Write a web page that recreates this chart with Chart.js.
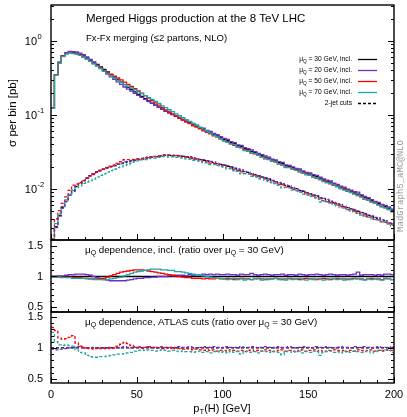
<!DOCTYPE html>
<html>
<head>
<meta charset="utf-8">
<script src="https://cdn.jsdelivr.net/npm/chart.js@4.4.1/dist/chart.umd.min.js"></script>
<style>
  html, body { margin: 0; padding: 0; background: #fff; }
  #wrap { position: relative; width: 407px; height: 417px; overflow: hidden; }
  #wrap canvas { position: absolute; left: 0; }
</style>
</head>
<body>
<div id="wrap">
  <canvas id="mainChart" width="407" height="243" style="top:0"></canvas>
  <canvas id="inclChart" width="407" height="78" style="top:238px"></canvas>
  <canvas id="cutsChart" width="407" height="107" style="top:310px"></canvas>
</div>
<script>
// Higgs pT, 2 GeV bins from 0 to 200
const BIN_WIDTH = 2;
const xTickLabels = ['0', '50', '100', '150', '200'];
const scaleLabels = ['30', '20', '50', '70'];
const seriesColors = ['#000000', '#6b2fc8', '#ff0000', '#1ba5a5'];

// sigma per bin [pb], muQ = 30 GeV, inclusive
const sigmaIncl30 = [
  0.124, 0.350, 0.512, 0.628, 0.680, 0.702, 0.698, 0.684, 0.660, 0.626,
  0.590, 0.552, 0.516, 0.481, 0.446, 0.412, 0.381, 0.352, 0.326, 0.301,
  0.278, 0.257, 0.238, 0.221, 0.205, 0.190, 0.178, 0.166, 0.155, 0.145,
  0.136, 0.128, 0.120, 0.113, 0.107, 0.1012, 0.0958, 0.0905, 0.0862, 0.0818,
  0.0780, 0.0738, 0.0706, 0.0668, 0.0637, 0.0603, 0.0578, 0.0546, 0.0522, 0.0494,
  0.0468, 0.0450, 0.0424, 0.0410, 0.0386, 0.0374, 0.0352, 0.0340, 0.0322, 0.0311,
  0.0296, 0.0284, 0.0270, 0.0262, 0.0248, 0.0240, 0.0228, 0.0221, 0.0208, 0.0203,
  0.0194, 0.0186, 0.0180, 0.0171, 0.0165, 0.0160, 0.0152, 0.0147, 0.0140, 0.0134,
  0.0128, 0.0124, 0.0117, 0.0113, 0.0106, 0.0103, 0.0098, 0.0094, 0.0089, 0.0085,
  0.0082, 0.0077, 0.0074, 0.0070, 0.0067, 0.0064, 0.0061, 0.0058, 0.0055, 0.0052
];

// sigma per bin [pb], muQ = 30 GeV, 2-jet (ATLAS) cuts
const sigmaCuts30 = [
  0.0016, 0.0031, 0.0044, 0.0056, 0.0068, 0.0082, 0.0094, 0.0108, 0.0119, 0.0130,
  0.0141, 0.0151, 0.0160, 0.0170, 0.0178, 0.0186, 0.0194, 0.0201, 0.0208, 0.0216,
  0.0221, 0.0228, 0.0233, 0.0240, 0.0246, 0.0250, 0.0256, 0.0261, 0.0266, 0.0270,
  0.0274, 0.0279, 0.0283, 0.0287, 0.0285, 0.0284, 0.0282, 0.0280, 0.0276, 0.0272,
  0.0268, 0.0262, 0.0256, 0.0250, 0.0244, 0.0240, 0.0233, 0.0228, 0.0220, 0.0216,
  0.0210, 0.0203, 0.0198, 0.0190, 0.0186, 0.0178, 0.0172, 0.0168, 0.0160, 0.0156,
  0.0150, 0.0145, 0.0140, 0.0136, 0.0130, 0.0126, 0.0121, 0.0117, 0.0112, 0.0109,
  0.0104, 0.0101, 0.0096, 0.0093, 0.0089, 0.0086, 0.0083, 0.0080, 0.0076, 0.0074,
  0.0071, 0.0068, 0.0066, 0.0063, 0.0061, 0.0058, 0.0056, 0.0054, 0.0052, 0.0050,
  0.0048, 0.0046, 0.0044, 0.0043, 0.0041, 0.0040, 0.0038, 0.0037, 0.0035, 0.0034
];

// ratios over muQ = 30 GeV, inclusive
const ratioIncl20 = [
  1.00, 1.00, 1.01, 1.01, 1.02, 1.03, 1.03, 1.04, 1.04, 1.04,
  1.03, 1.02, 1.00, 0.98, 0.96, 0.95, 0.94, 0.93, 0.93, 0.93,
  0.93, 0.93, 0.94, 0.95, 0.96, 0.97, 0.97, 0.98, 0.98, 0.99,
  0.99, 1.00, 1.00, 1.00, 1.01, 1.01, 1.02, 1.02, 1.02, 1.01,
  1.03, 1.02, 1.03, 1.02, 1.04, 1.03, 1.04, 1.03, 1.04, 1.03,
  1.03, 1.04, 1.03, 1.03, 1.02, 1.04, 1.03, 1.03, 1.05, 1.03,
  1.02, 1.03, 1.04, 1.03, 1.02, 1.03, 1.03, 1.04, 1.02, 1.03,
  1.03, 1.02, 1.04, 1.03, 1.02, 1.03, 1.03, 1.04, 1.03, 1.02,
  1.03, 1.04, 1.03, 1.02, 1.03, 1.03, 1.02, 1.03, 1.04, 1.07,
  1.02, 1.03, 1.03, 1.03, 1.02, 1.03, 1.02, 1.04, 1.04, 1.03
];
const ratioIncl50 = [
  1.00, 1.00, 0.99, 0.99, 0.99, 0.99, 0.98, 0.98, 0.98, 0.97,
  0.97, 0.96, 0.96, 0.96, 0.96, 0.97, 0.99, 1.01, 1.03, 1.05,
  1.07, 1.08, 1.09, 1.10, 1.11, 1.11, 1.11, 1.10, 1.09, 1.08,
  1.07, 1.06, 1.05, 1.04, 1.03, 1.02, 1.01, 1.00, 0.99, 0.98,
  0.98, 0.97, 0.97, 0.97, 0.96, 0.97, 0.96, 0.96, 0.97, 0.96,
  0.96, 0.97, 0.96, 0.95, 0.96, 0.97, 0.96, 0.96, 0.95, 0.96,
  0.97, 0.96, 0.95, 0.96, 0.96, 0.97, 0.96, 0.95, 0.96, 0.97,
  0.96, 0.96, 0.95, 0.96, 0.97, 0.96, 0.96, 0.95, 0.96, 0.97,
  0.96, 0.95, 0.96, 0.97, 0.96, 0.96, 0.95, 0.96, 0.97, 0.96,
  0.96, 0.95, 0.96, 0.97, 0.96, 0.96, 0.95, 0.97, 0.96, 0.95
];
const ratioIncl70 = [
  0.99, 0.99, 0.99, 0.98, 0.98, 0.98, 0.97, 0.97, 0.97, 0.97,
  0.96, 0.96, 0.95, 0.95, 0.95, 0.95, 0.95, 0.96, 0.97, 0.98,
  0.99, 1.01, 1.03, 1.05, 1.07, 1.08, 1.09, 1.10, 1.11, 1.12,
  1.12, 1.12, 1.11, 1.11, 1.10, 1.10, 1.08, 1.08, 1.07, 1.06,
  1.05, 1.04, 1.03, 1.02, 1.01, 1.00, 0.99, 0.98, 0.97, 0.97,
  0.96, 0.95, 0.96, 0.97, 0.95, 0.96, 0.94, 0.96, 0.95, 0.97,
  0.96, 0.94, 0.96, 0.95, 0.96, 0.97, 0.95, 0.96, 0.94, 0.96,
  0.95, 0.96, 0.97, 0.95, 0.94, 0.96, 0.95, 0.96, 0.96, 0.94,
  0.95, 0.96, 0.97, 0.95, 0.96, 0.94, 0.96, 0.95, 0.96, 0.97,
  0.95, 0.94, 0.96, 0.95, 0.96, 0.95, 0.94, 0.96, 0.97, 0.95
];

// ratios over muQ = 30 GeV, ATLAS cuts
const ratioCuts20 = [
  0.98, 0.97, 0.98, 0.98, 0.99, 1.00, 1.01, 1.02, 1.02, 1.01,
  1.00, 1.00, 1.01, 1.00, 0.99, 1.00, 1.01, 1.01, 1.00, 1.00,
  1.01, 1.02, 1.01, 1.00, 1.01, 1.02, 1.01, 1.01, 1.02, 1.01,
  1.00, 1.01, 1.02, 1.01, 1.01, 1.00, 1.01, 1.02, 1.01, 1.01,
  1.02, 1.01, 1.00, 1.01, 1.02, 1.01, 1.01, 1.02, 1.01, 1.00,
  1.01, 1.02, 1.01, 1.01, 1.00, 1.02, 1.01, 1.01, 1.02, 1.01,
  1.00, 1.01, 1.02, 1.01, 1.01, 1.00, 1.02, 1.01, 1.01, 1.02,
  1.01, 1.00, 1.01, 1.02, 1.01, 1.01, 1.00, 1.02, 1.01, 1.01,
  1.02, 1.01, 1.00, 1.01, 1.02, 1.01, 1.01, 1.00, 1.02, 1.01,
  1.01, 1.02, 1.01, 1.00, 1.01, 1.02, 1.01, 1.01, 1.00, 1.02
];
const ratioCuts50 = [
  1.33, 1.28, 1.16, 1.14, 1.15, 1.17, 1.20, 1.08, 1.03, 1.00,
  0.99, 1.00, 0.98, 0.99, 1.00, 0.99, 1.00, 0.99, 1.00, 1.03,
  1.06, 1.09, 1.07, 1.04, 1.02, 1.01, 1.00, 1.01, 1.02, 1.00,
  1.01, 1.00, 0.99, 1.00, 1.01, 0.99, 1.00, 0.99, 0.98, 0.99,
  0.98, 0.97, 0.98, 0.97, 0.96, 0.97, 0.96, 0.97, 0.95, 0.96,
  0.96, 0.95, 0.97, 0.96, 0.95, 0.96, 0.94, 0.96, 0.97, 0.95,
  0.96, 0.95, 0.97, 0.96, 0.94, 0.95, 0.96, 0.97, 0.95, 0.96,
  0.95, 0.94, 0.96, 0.97, 0.95, 0.96, 0.97, 0.95, 0.96, 0.94,
  0.95, 0.96, 0.97, 0.96, 0.95, 0.96, 0.94, 0.96, 0.95, 0.97,
  0.96, 0.95, 0.96, 0.97, 0.95, 0.96, 0.95, 0.96, 0.97, 0.96
];
const ratioCuts70 = [
  1.25, 1.10, 1.05, 1.04, 1.05, 1.04, 1.03, 0.97, 0.93, 0.92,
  0.88, 0.86, 0.85, 0.85, 0.86, 0.86, 0.87, 0.88, 0.89, 0.90,
  0.90, 0.91, 0.92, 0.93, 0.95, 0.96, 0.97, 0.96, 0.97, 0.96,
  0.95, 0.96, 0.97, 0.96, 0.95, 0.96, 0.95, 0.94, 0.95, 0.94,
  0.94, 0.93, 0.94, 0.95, 0.93, 0.94, 0.92, 0.94, 0.95, 0.93,
  0.94, 0.92, 0.95, 0.93, 0.94, 0.90, 0.94, 0.95, 0.93, 0.94,
  0.92, 0.95, 0.94, 0.93, 0.95, 0.94, 0.93, 0.89, 0.94, 0.95,
  0.93, 0.94, 0.95, 0.92, 0.94, 0.93, 0.95, 0.94, 0.88, 0.93,
  0.94, 0.95, 0.93, 0.94, 0.92, 0.95, 0.94, 0.93, 0.95, 0.94,
  0.93, 0.94, 0.95, 0.92, 0.94, 0.95, 0.96, 0.97, 0.96, 0.93
];

const FONT = '"Liberation Sans", Arial, Helvetica, sans-serif';
const MU = [['\u03bc'], ['Q', 'sub']];

// text with sub/superscripts: parts = [[text, 'sub'|'sup'|undefined], ...]
function drawRich(ctx, parts, x, y, size, align) {
  const fontOf = k => `${k ? size * 0.7 : size}px ${FONT}`;
  let w = 0;
  parts.forEach(([t, k]) => { ctx.font = fontOf(k); w += ctx.measureText(t).width; });
  let cx = align === 'right' ? x - w : align === 'center' ? x - w / 2 : x;
  ctx.textAlign = 'left';
  ctx.textBaseline = 'middle';
  parts.forEach(([t, k]) => {
    ctx.font = fontOf(k);
    const dy = k === 'sub' ? size * 0.3 : k === 'sup' ? -size * 0.38 : 0;
    ctx.fillText(t, cx, y + dy);
    cx += ctx.measureText(t).width;
  });
}

// histogram steps: one point per lower bin edge plus the closing edge
const toSteps = vals => vals.map((v, i) => ({ x: i * BIN_WIDTH, y: v }))
  .concat([{ x: vals.length * BIN_WIDTH, y: vals[vals.length - 1] }]);
const scaled = (base, ratio) => base.map((v, i) => v * ratio[i]);

const inclRatios = [sigmaIncl30.map((v, i) => v / sigmaIncl30[i]), ratioIncl20, ratioIncl50, ratioIncl70];
const cutsRatios = [sigmaCuts30.map((v, i) => v / sigmaCuts30[i]), ratioCuts20, ratioCuts50, ratioCuts70];
const drawOrder = [3, 2, 1, 0];

function lineSet(values, k, dashed) {
  return {
    data: toSteps(values),
    borderColor: seriesColors[k],
    borderWidth: 1.3,
    borderDash: dashed ? [3, 2] : [],
    stepped: true,
    pointRadius: 0,
    fill: false,
    order: drawOrder[k]
  };
}

const mainSets = [];
seriesColors.forEach((c, k) => {
  mainSets.push(lineSet(scaled(sigmaIncl30, inclRatios[k]), k, false));
  mainSets.push(lineSet(scaled(sigmaCuts30, cutsRatios[k]), k, true));
});

// inward ticks and frame
const framePlugin = {
  id: 'frame',
  afterDatasetsDraw(chart, args, opts) {
    const { ctx, chartArea: a, scales: { x, y } } = chart;
    ctx.save();
    ctx.strokeStyle = '#000';
    ctx.lineWidth = 1;
    ctx.beginPath();
    for (let v = 0; v <= 200; v += 10) {
      const px = Math.round(x.getPixelForValue(v)) + 0.5;
      const len = v % 50 === 0 ? 6 : 3;
      ctx.moveTo(px, a.bottom);
      ctx.lineTo(px, a.bottom - len);
    }
    opts.yTicks.forEach(([v, major]) => {
      const py = Math.round(y.getPixelForValue(v)) + 0.5;
      const len = major ? 6 : 3;
      ctx.moveTo(a.left, py); ctx.lineTo(a.left + len, py);
      ctx.moveTo(a.right, py); ctx.lineTo(a.right - len, py);
    });
    ctx.stroke();
    ctx.lineWidth = 1.4;
    ctx.strokeRect(a.left, a.top, a.right - a.left, a.bottom - a.top);
    ctx.fillStyle = '#000';
    opts.yLabels.forEach(([v, parts]) => drawRich(ctx, parts, 43, y.getPixelForValue(v), 11, 'right'));
    if (opts.caption) drawRich(ctx, opts.caption, 85, a.top + 10, 9.8, 'left');
    if (opts.xLabels) {
      xTickLabels.forEach(t => drawRich(ctx, [[t]], x.getPixelForValue(Number(t)), a.bottom + 12, 11, 'center'));
      drawRich(ctx, [['p'], ['T', 'sub'], ['(H) [GeV]']], 222, a.bottom + 26, 11, 'center');
    }
    ctx.restore();
  }
};

// main panel: log axis labels, titles, legend, watermark
const mainDecor = {
  id: 'mainDecor',
  afterDraw(chart) {
    const { ctx, chartArea: a, scales: { y } } = chart;
    ctx.save();
    ctx.fillStyle = '#000';
    [0, -1, -2].forEach(e => {
      const py = y.getPixelForValue(Math.pow(10, e));
      ctx.font = `11px ${FONT}`;
      ctx.textAlign = 'right';
      ctx.textBaseline = 'middle';
      ctx.fillText('10', 37, py + 1);
      ctx.font = `7.5px ${FONT}`;
      ctx.textAlign = 'left';
      ctx.fillText(e === 0 ? '0' : '-' + (-e), 37.5, py - 4);
    });
    drawRich(ctx, [['Merged Higgs production at the 8 TeV LHC']], 86, 19, 11.5, 'left');
    drawRich(ctx, [['Fx-Fx merging (\u22642 partons, NLO)']], 86, 38, 9.6, 'left');

    ctx.save();
    ctx.translate(13, 113);
    ctx.rotate(-Math.PI / 2);
    drawRich(ctx, [['\u03c3 per bin [pb]']], 0, 0, 11.5, 'center');
    ctx.restore();

    scaleLabels.forEach((s, k) => {
      const ly = 59.5 + 11 * k;
      drawRich(ctx, MU.concat([[` = ${s} GeV, incl.`]]), 352, ly, 6.7, 'right');
      ctx.strokeStyle = seriesColors[k];
      ctx.lineWidth = 1.3;
      ctx.setLineDash([]);
      ctx.beginPath(); ctx.moveTo(358, ly); ctx.lineTo(377, ly); ctx.stroke();
    });
    const dy = 59.5 + 11 * 4;
    drawRich(ctx, [['2-jet cuts']], 352, dy, 6.7, 'right');
    ctx.strokeStyle = '#000';
    ctx.setLineDash([3, 2]);
    ctx.beginPath(); ctx.moveTo(358, dy); ctx.lineTo(377, dy); ctx.stroke();
    ctx.setLineDash([]);

    ctx.save();
    ctx.translate(401, 186);
    ctx.rotate(-Math.PI / 2);
    ctx.fillStyle = '#9a9a9a';
    ctx.font = '9px "Liberation Mono", "DejaVu Sans Mono", monospace';
    ctx.textAlign = 'center';
    ctx.textBaseline = 'middle';
    ctx.fillText('MadGraph5_aMC@NLO', 0, 0);
    ctx.restore();
    ctx.restore();
  }
};

const logTicks = [];
for (let e = -3; e <= 0; e++) {
  for (let m = 1; m <= 9; m++) {
    const v = m * Math.pow(10, e);
    if (v > 0.00205 && v < 3.06) logTicks.push([v, m === 1]);
  }
}
const ratioTicks = [];
for (let i = 5; i <= 15; i++) ratioTicks.push([i / 10, i % 5 === 0]);
const ratioLabels = [[1.5, [['1.5']]], [1, [['1']]], [0.5, [['0.5']]]];

function baseOptions(padding, yScale, frameOpts) {
  return {
    responsive: false,
    animation: false,
    events: [],
    layout: { padding },
    plugins: { legend: { display: false }, tooltip: { enabled: false }, frame: frameOpts },
    scales: {
      x: { type: 'linear', min: 0, max: 200, display: false },
      y: Object.assign({ display: false }, yScale)
    }
  };
}

new Chart(document.getElementById('mainChart'), {
  type: 'line',
  data: { datasets: mainSets },
  options: baseOptions({ left: 51, right: 13, top: 5, bottom: 3 },
    { type: 'logarithmic', min: 0.00205, max: 3.06 },
    { yTicks: logTicks, yLabels: [] }),
  plugins: [framePlugin, mainDecor]
});

new Chart(document.getElementById('inclChart'), {
  type: 'line',
  data: { datasets: inclRatios.map((r, k) => lineSet(r, k, false)) },
  options: baseOptions({ left: 51, right: 13, top: 2, bottom: 4 },
    { type: 'linear', min: 0.418, max: 1.598 },
    { yTicks: ratioTicks, yLabels: ratioLabels,
      caption: MU.concat([[' dependence, incl. (ratio over ']], MU, [[' = 30 GeV)']]) }),
  plugins: [framePlugin]
});

new Chart(document.getElementById('cutsChart'), {
  type: 'line',
  data: { datasets: cutsRatios.map((r, k) => lineSet(r, k, true)) },
  options: baseOptions({ left: 51, right: 13, top: 2, bottom: 34 },
    { type: 'linear', min: 0.435, max: 1.58 },
    { yTicks: ratioTicks, yLabels: ratioLabels, xLabels: true,
      caption: MU.concat([[' dependence, ATLAS cuts (ratio over ']], MU, [[' = 30 GeV)']]) }),
  plugins: [framePlugin]
});
</script>
</body>
</html>
